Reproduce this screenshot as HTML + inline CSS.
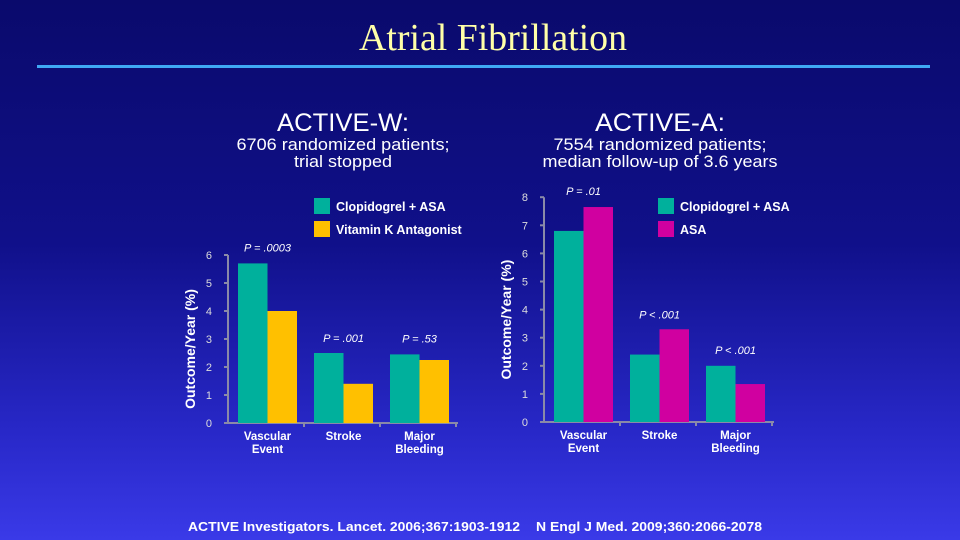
<!DOCTYPE html>
<html><head><meta charset="utf-8"><style>
html,body{margin:0;padding:0;}
body{width:960px;height:540px;overflow:hidden;background:linear-gradient(to bottom,#0a0a6c 0%,#10108a 45%,#2828c8 80%,#3a3ae8 100%);font-family:"Liberation Sans",sans-serif;}
svg{display:block}
</style></head><body>
<svg width="960" height="540">
<text x="493" y="50" text-anchor="middle" font-family="Liberation Serif" font-size="38" fill="#ffffa8" textLength="268" lengthAdjust="spacingAndGlyphs">Atrial Fibrillation</text>
<rect x="37" y="65" width="893" height="3" fill="#3fa9f5"/>
<g fill="#fff" text-anchor="middle" font-family="Liberation Sans">
<text x="343" y="131" font-size="25" textLength="132" lengthAdjust="spacingAndGlyphs">ACTIVE-W:</text>
<text x="343" y="150" font-size="17" textLength="213" lengthAdjust="spacingAndGlyphs">6706 randomized patients;</text>
<text x="343" y="167" font-size="17" textLength="98" lengthAdjust="spacingAndGlyphs">trial stopped</text>
<text x="660" y="131" font-size="25" textLength="130" lengthAdjust="spacingAndGlyphs">ACTIVE-A:</text>
<text x="660" y="150" font-size="17" textLength="213" lengthAdjust="spacingAndGlyphs">7554 randomized patients;</text>
<text x="660" y="167" font-size="17" textLength="235" lengthAdjust="spacingAndGlyphs">median follow-up of 3.6 years</text>
</g>
<g id="left"></g>
<g id="right"></g>
<text x="354" y="531" text-anchor="middle" font-size="13" font-weight="bold" fill="#fff" textLength="332" lengthAdjust="spacingAndGlyphs">ACTIVE Investigators. Lancet. 2006;367:1903-1912</text>
<text x="649" y="531" text-anchor="middle" font-size="13" font-weight="bold" fill="#fff" textLength="226" lengthAdjust="spacingAndGlyphs">N Engl J Med. 2009;360:2066-2078</text>
</svg>
<script>
const categories=["Vascular|Event","Stroke","Major|Bleeding"];
const leftClopi=[5.7,2.5,2.45];
const leftVka=[4.0,1.4,2.25];
const leftP=["P = .0003","P = .001","P = .53"];
const leftTicks=[0,1,2,3,4,5,6];
const rightClopi=[6.8,2.4,2.0];
const rightAsa=[7.65,3.3,1.35];
const rightP=["P = .01","P < .001","P < .001"];
const rightTicks=[0,1,2,3,4,5,6,7,8];
const NS="http://www.w3.org/2000/svg";
function mk(p,t,a){const e=document.createElementNS(NS,t);for(const k in a)e.setAttribute(k,a[k]);p.appendChild(e);return e;}
function chart(g,o){
  const y=v=>o.y0-v*o.unit;
  const x=i=>o.x0+10+i*o.step;
  mk(g,'line',{x1:o.ax,y1:y(o.ticks[o.ticks.length-1]),x2:o.ax,y2:o.y0,stroke:'#8a8aa8','stroke-width':2});
  mk(g,'line',{x1:o.ax-4,y1:o.y0,x2:o.ax+o.len,y2:o.y0,stroke:'#8a8aa8','stroke-width':2});
  o.ticks.forEach(t=>{
    const l=mk(g,'line',{x1:o.ax-4,y1:y(t),x2:o.ax,y2:y(t),stroke:'#8a8aa8','stroke-width':2});
    
    const tx=mk(g,'text',{x:o.ax-16,y:y(t)+4,'text-anchor':'end','font-size':11,fill:'#ddd'});tx.textContent=t;
    
    
  });
  for(let i=1;i<=3;i++){mk(g,'line',{x1:o.ax+i*o.step,y1:o.y0,x2:o.ax+i*o.step,y2:o.y0+4,stroke:'#8a8aa8','stroke-width':2});}
  const yl=mk(g,'text',{x:0,y:0,transform:`translate(${o.ylx},${(o.y0+y(o.ticks[o.ticks.length-1]))/2+10}) rotate(-90)`,'text-anchor':'middle','font-size':14,'font-weight':'bold',fill:'#fff'});
  yl.textContent='Outcome/Year (%)';
  
  categories.forEach((c,i)=>{
    const b1=mk(g,'rect',{x:x(i),y:y(o.s1[i]),width:o.bw,height:o.s1[i]*o.unit,fill:'#00b09c'});
    
    const b2=mk(g,'rect',{x:x(i)+o.bw,y:y(o.s2[i]),width:o.bw,height:o.s2[i]*o.unit,fill:o.c2});
    
    const lines=c.split('|');
    lines.forEach((ln,k)=>{const t=mk(g,'text',{x:x(i)+o.bw,y:o.y0+17+k*13,'text-anchor':'middle','font-size':11.5,'font-weight':'bold',fill:'#fff'});t.textContent=ln;
      });
    const py=y(Math.max(o.s1[i],o.s2[i]))-o.pOff[i];
    const p=mk(g,'text',{x:x(i)+o.bw,y:py,'text-anchor':'middle','font-size':11,fill:'#fff','font-style':'italic'});p.textContent=o.p[i];
    
  });
  o.legend.forEach((L,k)=>{
    const r=mk(g,'rect',{x:L.x,y:L.y,width:16,height:16,fill:L.c});
    
    const t=mk(g,'text',{x:L.x+22,y:L.y+13,'font-size':12.5,'font-weight':'bold',fill:'#fff'});t.textContent=L.t;
    
  });
}
chart(document.getElementById('left'),{ax:228,x0:228,y0:423,unit:28,step:76,bw:29.5,len:230,ylx:195,
  ticks:leftTicks,s1:leftClopi,s2:leftVka,c2:'#ffc000',n2:'vitamin-k',p:leftP,pOff:[12,11,12],
  legend:[{x:314,y:198,c:'#00b09c',t:'Clopidogrel + ASA'},{x:314,y:221,c:'#ffc000',t:'Vitamin K Antagonist'}]});
chart(document.getElementById('right'),{ax:544,x0:544,y0:422,unit:28.1,step:76,bw:29.5,len:230,ylx:511,
  ticks:rightTicks,s1:rightClopi,s2:rightAsa,c2:'#d000a0',n2:'asa',p:rightP,pOff:[12,11,12],
  legend:[{x:658,y:198,c:'#00b09c',t:'Clopidogrel + ASA'},{x:658,y:221,c:'#d000a0',t:'ASA'}]});
</script>
</body></html>
